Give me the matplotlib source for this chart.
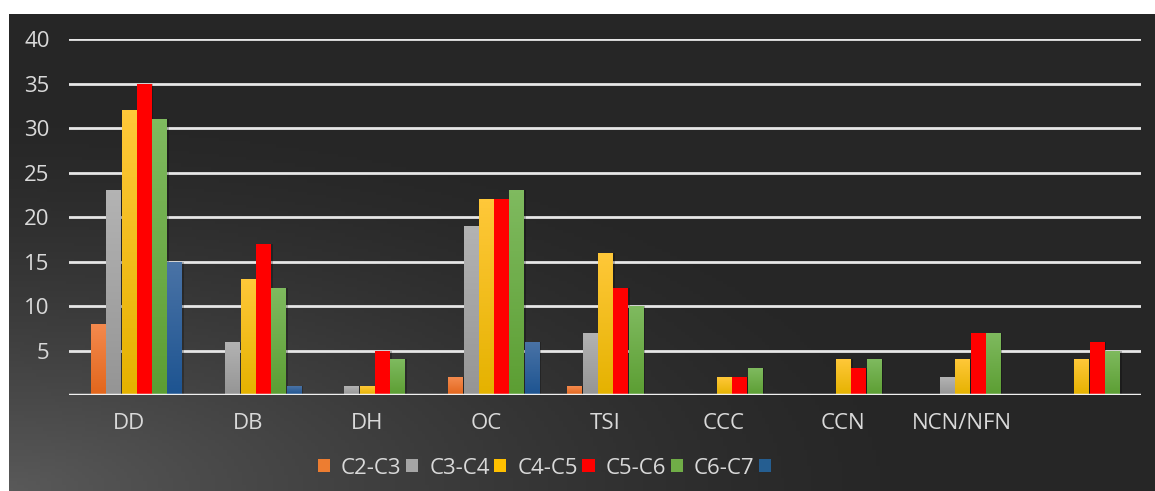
import numpy as np
import matplotlib.pyplot as plt
from matplotlib.patches import Patch
from matplotlib.colors import to_rgb

plt.rcParams['font.family'] = ['Open Sans', 'DejaVu Sans']

categories = ['DD', 'DB', 'DH', 'OC', 'TSI', 'CCC', 'CCN', 'NCN/NFN', '']
series_names = ['C2-C3', 'C3-C4', 'C4-C5', 'C5-C6', 'C6-C7', '']

c2_c3 = [8, 0, 0, 2, 1, 0, 0, 0, 0]
c3_c4 = [23, 6, 1, 19, 7, 0, 0, 2, 0]
c4_c5 = [32, 13, 1, 22, 16, 2, 4, 4, 4]
c5_c6 = [35, 17, 5, 22, 12, 2, 3, 7, 6]
c6_c7 = [31, 12, 4, 23, 10, 3, 4, 7, 5]
c7_c8 = [15, 1, 0, 6, 0, 0, 0, 0, 0]
series = [c2_c3, c3_c4, c4_c5, c5_c6, c6_c7, c7_c8]

# (top, bottom) colours of each bar's vertical gradient
bar_colors = [('#f48a4e', '#e2661c'),
              ('#b3b3b3', '#959595'),
              ('#ffc839', '#e5b200'),
              ('#ff0000', '#ff0000'),
              ('#7fba5f', '#5c9e33'),
              ('#4a73a6', '#1d5491')]
legend_colors = ['#ed7d31', '#a5a5a5', '#ffc000', '#ff0000', '#70ad47', '#255e91']

fig = plt.figure(figsize=(11.55, 4.91), dpi=100)
fig.patch.set_facecolor('white')

# dark panel, lighter towards the lower left corner
bg = fig.add_axes([9 / 1155, 0, 1 - 9 / 1155, 1 - 14 / 491], zorder=0)
gx, gy = np.meshgrid(np.linspace(0, 1, 300), np.linspace(0, 1, 150))
d = np.clip(np.sqrt((gx * 1.0) ** 2 + ((1 - gy) * 1.0) ** 2) / 0.8, 0, 1)
shade = 0.15 + 0.2 * (1 - d) ** 1.4
bg.imshow(np.dstack([shade] * 3), aspect='auto', extent=[0, 1, 0, 1], origin='upper')
bg.set_axis_off()

ax = fig.add_axes([69 / 1155, 1 - 395 / 491, (1141 - 69) / 1155, (395 - 39.3) / 491], zorder=1)
ax.patch.set_alpha(0)

x = np.arange(len(categories))
slot = 0.9 / 7
width = slot * 0.92


def gradient_bar(rect, top, bottom):
    grad = np.linspace(0, 1, 64)[:, None]
    t = np.array(to_rgb(top))
    b = np.array(to_rgb(bottom))
    img = t[None, None, :] * (1 - grad[:, :, None]) + b[None, None, :] * grad[:, :, None]
    x0, y0 = rect.get_x(), rect.get_y()
    im = ax.imshow(img, extent=[x0, x0 + rect.get_width(), y0, y0 + rect.get_height()],
                   aspect='auto', origin='upper', zorder=3)
    im.set_clip_path(rect)


for i, vals in enumerate(series):
    offs = (i + 1 - 3) * slot
    # soft shadow behind the bars
    ax.bar(x + offs + 0.012, vals, width * 1.15, color='black', alpha=0.25, zorder=2)
    bars = ax.bar(x + offs, vals, width, color=bar_colors[i][1], zorder=3)
    for r in bars:
        if r.get_height() > 0:
            gradient_bar(r, *bar_colors[i])

ax.set_xlim(-0.5, len(categories) - 0.5)
ax.set_ylim(0, 40)
ax.set_yticks(np.arange(0, 41, 5))
ax.set_yticklabels([''] + [str(v) for v in range(5, 41, 5)])
ax.set_xticks(x)
ax.set_xticklabels(categories)
ax.yaxis.grid(True, color='#e6e6e6', linewidth=2)
ax.set_axisbelow(True)
ax.tick_params(axis='both', length=0, colors='#d9d9d9', labelsize=16)
ax.tick_params(axis='y', pad=14)
ax.tick_params(axis='x', pad=13)
for s in ax.spines.values():
    s.set_visible(False)
ax.axhline(0, color='#f0f0f0', linewidth=2.5, zorder=4)

handles = [Patch(facecolor=c) for c in legend_colors]
fig.legend(handles, series_names, loc='center', bbox_to_anchor=(550 / 1155, 1 - 468 / 491),
           ncol=6, frameon=False, fontsize=16, labelcolor='#d9d9d9',
           handlelength=0.55, handleheight=0.55, handletextpad=0.5, columnspacing=0.2)

fig.savefig('out.png', dpi=100)
